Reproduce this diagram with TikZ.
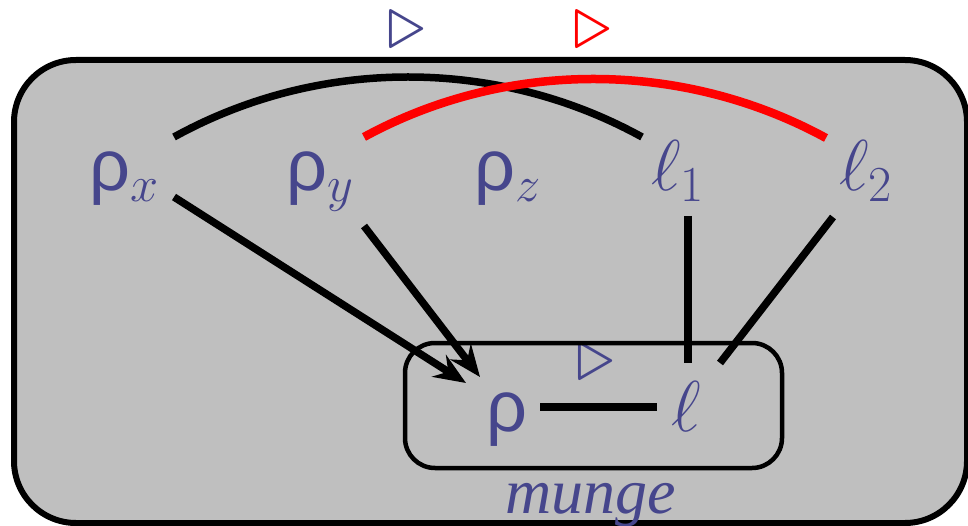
\RequirePackage{fix-cm}
\documentclass[tikz,border=0pt]{standalone}
\usepackage{fontspec}
\newfontfamily\rhofont{Liberation Sans}
\newfontfamily\serifit{Liberation Serif}
\usetikzlibrary{arrows.meta}
\definecolor{txt}{RGB}{70,70,140}
\definecolor{bg}{RGB}{191,191,191}
\definecolor{arcred}{RGB}{255,0,0}
\begin{document}
\begin{tikzpicture}[x=1pt,y=-1pt,
  lbl/.style={inner sep=0pt, anchor=base west, text=txt, font=\fontsize{72}{80}\selectfont},
  tri/.style={inner sep=0pt, anchor=center, font=\fontsize{78}{80}\selectfont},
  conn/.style={line width=7.5pt},
  arr/.style={conn, -{Stealth[length=32pt,width=26pt,inset=11pt]}},
  outerbox/.style={line width=6pt, fill=bg, rounded corners=62pt},
  innerbox/.style={line width=4.5pt, rounded corners=30pt}]
\useasboundingbox (0,0) rectangle (968,526);
\begin{scope}
\clip (0,0) rectangle (968,526);
\draw[outerbox] (14,60) rectangle (967,523);
\end{scope}
% text nodes
\node[lbl] (rx) at (89,191) {{\rhofont ρ}$_x$};
\node[lbl] (ry) at (286,191) {{\rhofont ρ}$_y$};
\node[lbl] (rz) at (474,191) {{\rhofont ρ}$_z$};
\node[lbl] (l1) at (651,191) {$\ell_1$};
\node[lbl] (l2) at (839,191) {$\ell_2$};
\node[lbl] (rho) at (486,431) {{\rhofont ρ}};
\node[lbl] (l) at (671,431) {$\ell$};
\node[lbl, font=\fontsize{64}{70}\selectfont] (munge) at (505,513) {\serifit\itshape munge};
\node[tri, text=txt] (t1) at (407,30) {$\triangleright$};
\node[tri, text=arcred] (t2) at (593,30) {$\triangleright$};
\node[tri, text=txt] (t3) at (596,362) {$\triangleright$};
% connector end points
\coordinate (rxa) at (174,137);
\coordinate (l1a) at (642,137);
\coordinate (rya) at (364,137);
\coordinate (l2a) at (826,138);
\coordinate (rxb) at (174,197);
\coordinate (rxt) at (466,383);
\coordinate (ryb) at (364,226);
\coordinate (ryt) at (480,377);
\coordinate (l1b) at (688,216);
\coordinate (l1c) at (688,363);
\coordinate (l2b) at (833,217);
\coordinate (l2c) at (720,363);
\coordinate (rhoa) at (540,407);
\coordinate (la) at (657,407);
% arcs
\draw[conn] (rxa) .. controls (319,57) and (497,57) .. (l1a);
\draw[conn, line width=8.5pt, arcred] (rya) .. controls (507,59) and (683,60) .. (l2a);
% lines
\draw[arr] (rxb) -- (rxt);
\draw[arr] (ryb) -- (ryt);
\draw[conn] (l1b) -- (l1c);
\draw[conn] (l2b) -- (l2c);
\draw[conn, line width=8.5pt] (rhoa) -- (la);
\draw[innerbox] (405,343) rectangle (782,468);
\end{tikzpicture}
\end{document}
